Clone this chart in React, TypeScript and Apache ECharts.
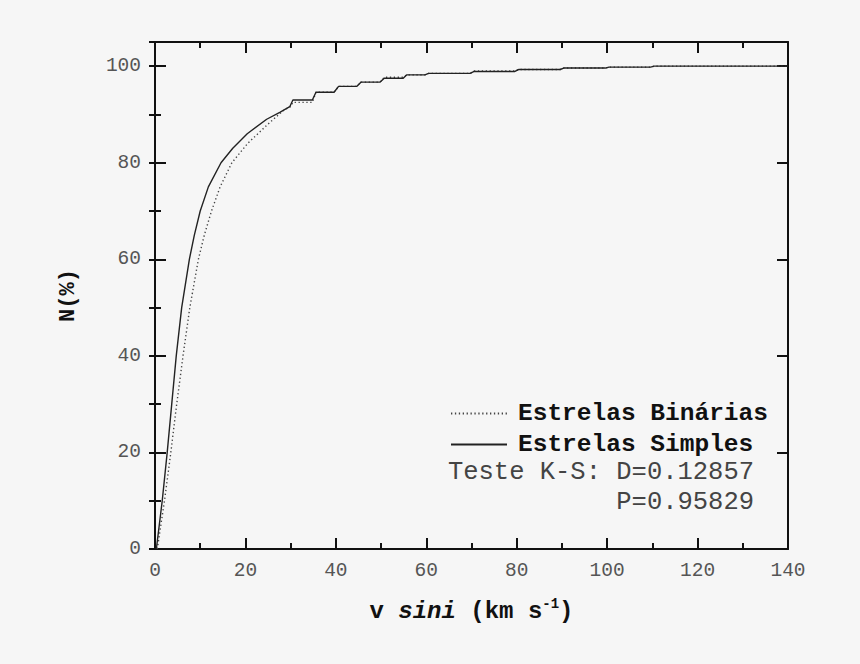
import React, { useEffect, useRef } from 'react';
import * as echarts from 'echarts';

const FONT = '"Liberation Mono", "Courier New", monospace';

// cumulative distributions of v sini (km/s) vs N (%)
const binariasV = [0.5, 2.1, 3.5, 4.8, 6.2, 7.7, 9.6, 10.9, 12.5, 14.4, 17.0, 20.5, 25.0, 28.6, 30.0, 30.5, 34.8, 35.6, 39.6, 40.6, 44.6, 45.6, 49.8, 50.7, 54.9, 55.7, 59.7, 60.5, 69.7, 70.6, 79.6, 80.4, 89.6, 90.4, 99.6, 100.4, 109.6, 110.4, 140];
const binariasN = [0, 10, 20, 30, 40, 50, 60, 65, 70, 75, 80, 84, 88, 91, 91.6, 92.5, 92.5, 94.6, 94.6, 95.8, 95.8, 96.7, 96.7, 97.7, 97.7, 98.2, 98.2, 98.5, 98.5, 99.0, 99.0, 99.3, 99.3, 99.6, 99.6, 99.8, 99.8, 100, 100];

const simplesV = [0.3, 1.6, 2.7, 3.7, 4.7, 5.9, 7.6, 8.7, 10.0, 11.8, 14.6, 17.2, 20.4, 24.7, 27.7, 29.8, 30.5, 34.8, 35.6, 39.6, 40.6, 44.6, 45.6, 49.8, 50.7, 54.9, 55.7, 59.7, 60.5, 69.7, 70.6, 79.6, 80.4, 89.6, 90.4, 99.6, 100.4, 109.6, 110.4, 140];
const simplesN = [0, 10, 20, 30, 40, 50, 60, 65, 70, 75, 80, 83, 86, 89, 90.5, 91.6, 93, 93, 94.6, 94.6, 95.8, 95.8, 96.7, 96.7, 97.5, 97.5, 98.2, 98.2, 98.5, 98.5, 98.9, 98.9, 99.3, 99.3, 99.6, 99.6, 99.8, 99.8, 100, 100];

const seriesNames = ['Estrelas Binárias', 'Estrelas Simples'];
const ksLabel = 'Teste K-S: D=0.12857';
const pLabel = 'P=0.95829';

const X_MAX = 140;
const Y_MAX = 105;

const zip = (xs: number[], ys: number[]) => xs.map((x, i) => [x, ys[i]]);

const frameLine = { show: true, lineStyle: { color: '#111', width: 2 } };

export default function App() {
    const chartRef = useRef<HTMLDivElement>(null);

    useEffect(() => {
        if (!chartRef.current) return;
        const chart = echarts.init(chartRef.current, null, { renderer: 'svg' });

        const xBase = {
            type: 'value',
            min: 0,
            max: X_MAX,
            interval: 20,
            splitLine: { show: false },
            axisLine: { ...frameLine, onZero: false },
            axisTick: { show: true, inside: true, length: 11, lineStyle: { color: '#111', width: 2 } },
            minorTick: { show: true, splitNumber: 2, length: 6, lineStyle: { color: '#111', width: 2 } },
        };
        const yMajor = {
            type: 'value',
            min: 0,
            max: Y_MAX,
            interval: 20,
            splitLine: { show: false },
            axisLine: { ...frameLine, onZero: false },
            axisTick: { show: true, inside: true, length: 11, lineStyle: { color: '#111', width: 2 } },
        };
        const yMinor = {
            type: 'value',
            min: 0,
            max: Y_MAX,
            interval: 10,
            splitLine: { show: false },
            axisLine: { show: false },
            axisLabel: { show: false },
            axisTick: { show: true, inside: true, length: 6, lineStyle: { color: '#111', width: 2 } },
        };

        const option: any = {
            animation: false,
            backgroundColor: '#f6f6f6',
            grid: { left: 155, right: 72, top: 42, bottom: 115 },
            xAxis: [
                {
                    ...xBase,
                    position: 'bottom',
                    name: '{b|v }{i|sini}{b| (km s}{sup|-1}{b|)}',
                    nameLocation: 'middle',
                    nameGap: 48,
                    nameTextStyle: {
                        rich: {
                            b: { fontFamily: FONT, fontWeight: 'bold', fontSize: 24, color: '#111' },
                            i: { fontFamily: FONT, fontWeight: 'bold', fontStyle: 'italic', fontSize: 24, color: '#111' },
                            sup: { fontFamily: FONT, fontWeight: 'bold', fontSize: 14, color: '#111', padding: [0, 0, 14, 0] },
                        },
                    },
                    axisLabel: { fontFamily: FONT, fontSize: 19.5, color: '#555', margin: 12 },
                },
                {
                    ...xBase,
                    position: 'top',
                    axisLabel: { show: false },
                },
            ],
            yAxis: [
                {
                    ...yMajor,
                    position: 'left',
                    name: 'N(%)',
                    nameLocation: 'middle',
                    nameRotate: 90,
                    nameGap: 76,
                    nameTextStyle: { fontFamily: FONT, fontWeight: 'bold', fontSize: 22, color: '#111' },
                    axisLabel: {
                        fontFamily: FONT,
                        fontSize: 19.5,
                        color: '#555',
                        margin: 14,
                        formatter: (v: number) => (v % 20 === 0 ? String(v) : ''),
                    },
                },
                { ...yMajor, position: 'right', axisLabel: { show: false } },
                { ...yMinor, position: 'left' },
                { ...yMinor, position: 'right' },
            ],
            legend: {
                orient: 'vertical',
                left: 445,
                top: 396,
                itemWidth: 56,
                itemHeight: 14,
                itemGap: 6,
                selectedMode: false,
                itemStyle: { opacity: 0 },
                data: seriesNames,
                textStyle: {
                    fontFamily: FONT,
                    fontWeight: 'bold',
                    fontSize: 24.5,
                    color: '#111',
                    lineHeight: 24,
                    padding: [0, 0, 0, 6],
                },
            },
            graphic: [
                {
                    type: 'text',
                    right: 106,
                    top: 459,
                    style: { text: ksLabel, font: `25.5px ${FONT}`, fill: '#444' },
                },
                {
                    type: 'text',
                    right: 106,
                    top: 489,
                    style: { text: pLabel, font: `25.5px ${FONT}`, fill: '#444' },
                },
            ],
            series: [
                {
                    name: seriesNames[0],
                    type: 'line',
                    xAxisIndex: 0,
                    yAxisIndex: 0,
                    symbol: 'none',
                    color: '#444',
                    lineStyle: { color: '#444', width: 1.4, type: [1.3, 2.6] },
                    data: zip(binariasV, binariasN),
                },
                {
                    name: seriesNames[1],
                    type: 'line',
                    xAxisIndex: 0,
                    yAxisIndex: 0,
                    symbol: 'none',
                    color: '#222',
                    lineStyle: { color: '#222', width: 1.4 },
                    data: zip(simplesV, simplesN),
                },
            ],
        };

        chart.setOption(option);
        return () => chart.dispose();
    }, []);

    return (
        <div
            ref={chartRef}
            style={{ position: 'fixed', left: 0, top: 0, width: 860, height: 664 }}
        />
    );
}
